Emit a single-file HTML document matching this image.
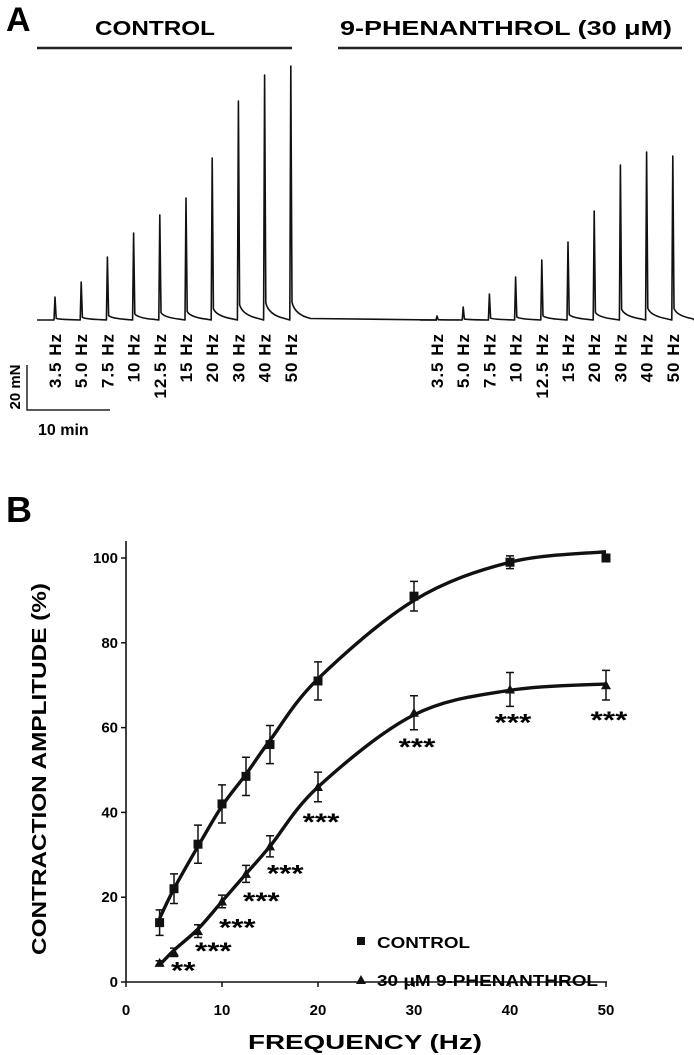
<!DOCTYPE html>
<html><head><meta charset="utf-8"><style>
html,body{margin:0;padding:0;background:#fff;}
svg{display:block;font-family:"Liberation Sans",Arial,sans-serif;font-weight:bold;}
</style></head><body>
<svg id="fig" width="694" height="1055" viewBox="0 0 694 1055">
<g id="pa">
 <text x="6" y="31" font-size="34">A</text>
 <text x="95" y="35" font-size="20" textLength="120" lengthAdjust="spacingAndGlyphs">CONTROL</text>
 <line x1="37" y1="48" x2="292" y2="48" stroke="#222" stroke-width="2.5"/>
 <text x="340" y="35" font-size="20" textLength="332" lengthAdjust="spacingAndGlyphs">9-PHENANTHROL (30 μM)</text>
 <line x1="338" y1="48" x2="682" y2="48" stroke="#222" stroke-width="2.5"/>
 <g>
  <polyline points="27,365 27,410 110,410" fill="none" stroke="#222" stroke-width="1.5"/>
  <text x="0" y="0" font-size="15" text-anchor="middle" transform="translate(20,387) rotate(-90)">20 mN</text>
  <text x="38" y="435" font-size="16">10 min</text>
 </g>
</g>
<g id="pb">
 <text x="6" y="522" font-size="36">B</text>
 <text x="0" y="0" font-size="20" textLength="372" lengthAdjust="spacingAndGlyphs" text-anchor="middle" transform="translate(46,769) rotate(-90)">CONTRACTION AMPLITUDE (%)</text>
 <text x="248" y="1049" font-size="20" textLength="234" lengthAdjust="spacingAndGlyphs">FREQUENCY (Hz)</text>
</g>
</svg>
<script>
const freqs=[3.5,5,7.5,10,12.5,15,20,30,40,50];
const freqLabels=["3.5 Hz","5.0 Hz","7.5 Hz","10 Hz","12.5 Hz","15 Hz","20 Hz","30 Hz","40 Hz","50 Hz"];
const traceControl=[23,38,63,87,105,122,162,219,245,254];
const tracePhen=[4,13,26,43,60,78,109,155,168,164];
const ctrlMean=[14,22,32.5,42,48.5,56,71,91,99,100];
const ctrlErr=[3,3.5,4.5,4.5,4.5,4.5,4.5,3.5,1.5,0.5];
const phenMean=[4.5,7,12,19,25.5,32,46,63.5,69,70];
const phenErr=[0.5,1,1.5,1.5,2,2.5,3.5,4,4,3.5];
const ctrlFit=[15,22,32,41.5,49,57,71.5,90,99,101.5];
const phenFit=[4,7.5,12.5,19,25.5,32,46,63,68.8,70.3];
const stars=["","**","***","***","***","***","***","***","***","***"];
const xTicks=[0,10,20,30,40,50];
const yTicks=[0,20,40,60,80,100];

const NS="http://www.w3.org/2000/svg";
const pa=document.getElementById('pa');
const pb=document.getElementById('pb');
function mk(tag,attrs,parent){const e=document.createElementNS(NS,tag);for(const k in attrs)e.setAttribute(k,attrs[k]);parent.appendChild(e);return e;}

// Panel A trace
const base=320;
function traceX(i,start){return start+i*26.2;}
function buildTrace(vals,start,x0,x1,name){
 let d="M"+x0+","+base;
 vals.forEach((v,i)=>{
  const x=traceX(i,start);
  const t=Math.min(5,v*0.025);
  d+=" L"+(x-1)+","+base+" L"+x+","+(base-v)+" L"+(x+1.2)+","+(base-v*0.07)+" Q"+(x+4)+","+(base-t)+" "+(x+20)+","+(base-t*0.3);
 });
 d+=" L"+x1+","+base;
 const p=mk('path',{d:d,fill:'none',stroke:'#111','stroke-width':1.6,'stroke-linejoin':'round'},pa);
 
 
}
buildTrace(traceControl,55,37,437,'control-trace');
buildTrace(tracePhen,437,420,694,'phenanthrol-trace');
[[55,'control'],[437,'phenanthrol']].forEach(([start,nm])=>{
 freqLabels.forEach((l,i)=>{
  const x=traceX(i,start)+6;
  const t=mk('text',{x:0,y:0,'font-size':17,'letter-spacing':'1','text-anchor':'end',transform:'translate('+x+',333) rotate(-90)'},pa);
  t.textContent=l;
  
  
 });
});

// Panel B axes
const X=f=>126+f*9.6;
const Y=v=>982-v*4.24;
const ya=mk('line',{x1:X(0),y1:Y(0),x2:X(0),y2:Y(104),stroke:'#111','stroke-width':1.6},pb);


const xa=mk('line',{x1:X(0),y1:Y(0),x2:X(50)+1,y2:Y(0),stroke:'#111','stroke-width':1.6},pb);


xTicks.forEach(t=>{
 mk('line',{x1:X(t),y1:Y(0),x2:X(t),y2:Y(0)+5,stroke:'#111','stroke-width':1.5},pb);
 const e=mk('text',{x:X(t),y:1015,'font-size':15,'text-anchor':'middle'},pb);e.textContent=t;
 
 
});
yTicks.forEach(t=>{
 mk('line',{x1:X(0)-5,y1:Y(t),x2:X(0),y2:Y(t),stroke:'#111','stroke-width':1.5},pb);
 const e=mk('text',{x:X(0)-8,y:Y(t)+5,'font-size':15,'text-anchor':'end'},pb);e.textContent=t;
 
 
});
function curve(fit,name){
 const pts=freqs.map((f,i)=>[X(f),Y(fit[i])]);
 let d="M"+pts[0][0]+","+pts[0][1];
 for(let i=0;i<pts.length-1;i++){
  const p0=pts[Math.max(0,i-1)],p1=pts[i],p2=pts[i+1],p3=pts[Math.min(pts.length-1,i+2)];
  const c1=[p1[0]+(p2[0]-p0[0])/6,p1[1]+(p2[1]-p0[1])/6];
  const c2=[p2[0]-(p3[0]-p1[0])/6,p2[1]-(p3[1]-p1[1])/6];
  d+=" C"+c1+" "+c2+" "+p2;
 }
 const p=mk('path',{d:d,fill:'none',stroke:'#111','stroke-width':3.4},pb);
 
 
}
curve(ctrlFit,'control-fit-curve');
curve(phenFit,'phenanthrol-fit-curve');
function errs(mean,err,name){
 freqs.forEach((f,i)=>{
  const x=X(f),a=Y(mean[i]+err[i]),b=Y(mean[i]-err[i]);
  const p=mk('path',{d:`M${x},${a}V${b}M${x-4},${a}H${x+4}M${x-4},${b}H${x+4}`,stroke:'#111','stroke-width':1.5,fill:'none'},pb);
  
  
 });
}
errs(ctrlMean,ctrlErr,'control-error-bar');
errs(phenMean,phenErr,'phenanthrol-error-bar');
const starDy=[0,12,14,20,21,21,29,28,27,29];
freqs.forEach((f,i)=>{
 const r=mk('rect',{x:X(f)-4.5,y:Y(ctrlMean[i])-4.5,width:9,height:9,fill:'#111'},pb);
 
 
 const x=X(f),y=Y(phenMean[i]);
 const t=mk('polygon',{points:`${x},${y-5} ${x-5},${y+4} ${x+5},${y+4}`,fill:'#111'},pb);
 
 
 if(stars[i]){
  const w=stars[i].length*12.2;
  const sx=f>=20?x-w/2+3:x-3;
  const s=mk('text',{'font-size':24,x:sx,y:y+starDy[i]+14,textLength:w,lengthAdjust:'spacingAndGlyphs'},pb);
  s.textContent=stars[i];
  
  
 }
});
const lg=mk('g',{},pb);


mk('rect',{x:357,y:937,width:8,height:8,fill:'#111'},lg);
const l1=mk('text',{x:377,y:948,'font-size':16,textLength:93,lengthAdjust:'spacingAndGlyphs'},lg);l1.textContent='CONTROL';


mk('polygon',{points:'361,975 356,984 366,984',fill:'#111'},lg);
const l2=mk('text',{x:377,y:986,'font-size':16,textLength:221,lengthAdjust:'spacingAndGlyphs'},lg);l2.textContent='30 μM 9-PHENANTHROL';


</script>
</body></html>
